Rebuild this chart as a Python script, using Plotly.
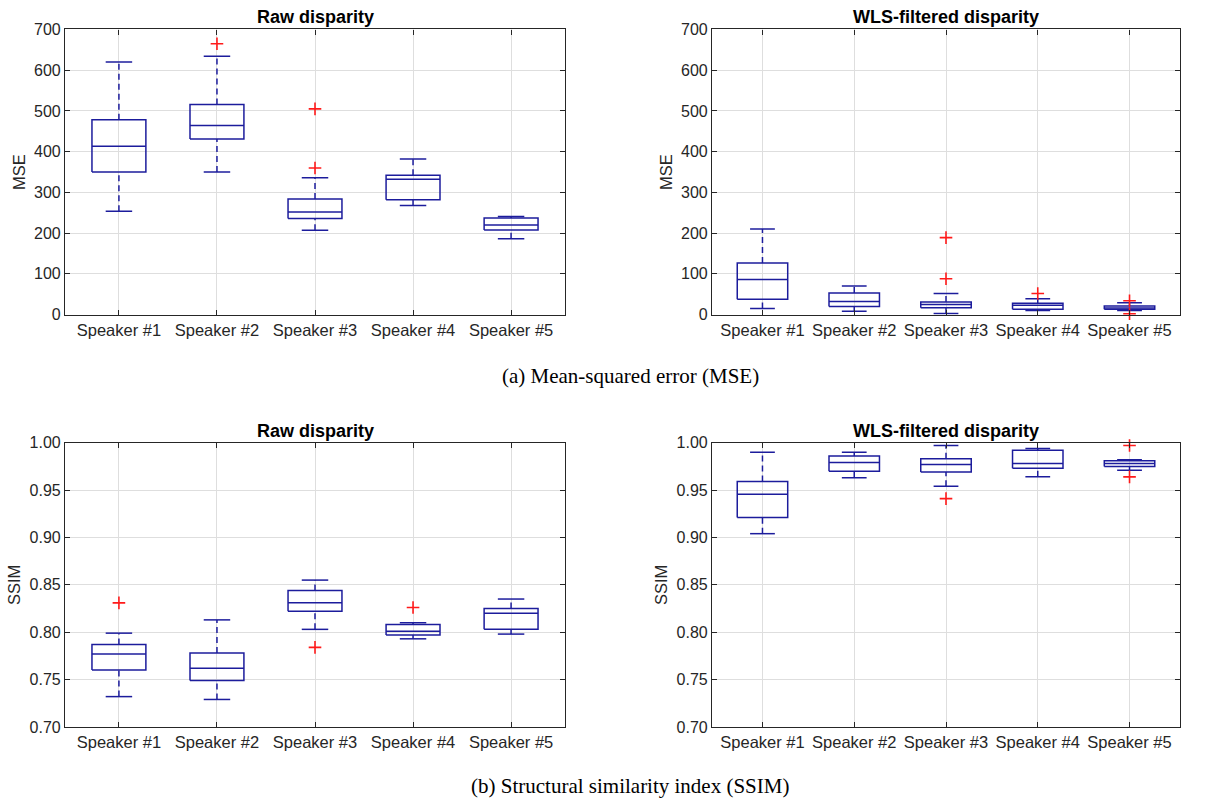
import plotly.graph_objects as go

speakers = ["Speaker #1", "Speaker #2", "Speaker #3", "Speaker #4", "Speaker #5"]
positions = [1, 2, 3, 4, 5]

# (a) MSE - raw disparity
mse_raw_lo = [254, 350, 207, 268, 186]
mse_raw_q1 = [350, 431, 236, 282, 208]
mse_raw_med = [413, 464, 252, 332, 220]
mse_raw_q3 = [478, 516, 284, 342, 237]
mse_raw_hi = [620, 634, 336, 382, 241]
mse_raw_out = [[], [665], [505, 360], [], []]

# (a) MSE - WLS-filtered disparity
mse_wls_lo = [15, 8, 2.5, 10, 10]
mse_wls_q1 = [38, 20, 17, 13, 13]
mse_wls_med = [86, 32, 25, 23, 16]
mse_wls_q3 = [127, 53, 31, 28, 21]
mse_wls_hi = [210, 70, 52, 39, 29]
mse_wls_out = [[], [], [189, 88], [52], [34, 2]]

# (b) SSIM - raw disparity
ssim_raw_lo = [0.732, 0.729, 0.803, 0.793, 0.798]
ssim_raw_q1 = [0.760, 0.749, 0.822, 0.797, 0.803]
ssim_raw_med = [0.777, 0.762, 0.831, 0.801, 0.820]
ssim_raw_q3 = [0.787, 0.778, 0.844, 0.808, 0.825]
ssim_raw_hi = [0.799, 0.813, 0.855, 0.810, 0.835]
ssim_raw_out = [[0.831], [], [0.784], [0.826], []]

# (b) SSIM - WLS-filtered disparity
ssim_wls_lo = [0.904, 0.963, 0.954, 0.964, 0.971]
ssim_wls_q1 = [0.921, 0.970, 0.969, 0.973, 0.975]
ssim_wls_med = [0.9455, 0.979, 0.977, 0.978, 0.978]
ssim_wls_q3 = [0.959, 0.986, 0.983, 0.992, 0.981]
ssim_wls_hi = [0.990, 0.990, 0.997, 0.994, 0.982]
ssim_wls_out = [[], [], [0.941], [], [0.997, 0.964]]

BOX_COLOR = "#1c1c9c"
OUT_COLOR = "#ff1a1a"
AX_COLOR = "#262626"
GRID_COLOR = "#dedede"
SANS = "Liberation Sans, Arial, Helvetica, sans-serif"
SERIF = "Liberation Serif, Times New Roman, serif"
HALF = 0.275
CAP = 0.135

fig = go.Figure()


def add_panel(xa, ya, lo, q1, med, q3, hi, outs):
    bx, by, mx, my, wx, wy, cx, cy, ox, oy = [], [], [], [], [], [], [], [], [], []
    for p, a, b, m, c, d, o in zip(positions, lo, q1, med, q3, hi, outs):
        bx += [p - HALF, p + HALF, p + HALF, p - HALF, p - HALF, None]
        by += [b, b, c, c, b, None]
        mx += [p - HALF, p + HALF, None]
        my += [m, m, None]
        wx += [p, p, None, p, p, None]
        wy += [c, d, None, a, b, None]
        cx += [p - CAP, p + CAP, None, p - CAP, p + CAP, None]
        cy += [d, d, None, a, a, None]
        for v in o:
            ox.append(p)
            oy.append(v)
    common = dict(xaxis=xa, yaxis=ya, showlegend=False, hoverinfo="skip", cliponaxis=False)
    fig.add_trace(go.Scatter(x=wx, y=wy, mode="lines",
                             line=dict(color=BOX_COLOR, width=1.5, dash="6px,4px"), **common))
    fig.add_trace(go.Scatter(x=cx, y=cy, mode="lines",
                             line=dict(color=BOX_COLOR, width=1.5), **common))
    fig.add_trace(go.Scatter(x=bx, y=by, mode="lines",
                             line=dict(color=BOX_COLOR, width=1.5), **common))
    fig.add_trace(go.Scatter(x=mx, y=my, mode="lines",
                             line=dict(color=BOX_COLOR, width=1.5), **common))
    fig.add_trace(go.Scatter(x=ox, y=oy, mode="markers",
                             marker=dict(symbol="cross-thin", size=9,
                                         line=dict(color=OUT_COLOR, width=1.6)),
                             **common))


add_panel("x", "y", mse_raw_lo, mse_raw_q1, mse_raw_med, mse_raw_q3, mse_raw_hi, mse_raw_out)
add_panel("x2", "y2", mse_wls_lo, mse_wls_q1, mse_wls_med, mse_wls_q3, mse_wls_hi, mse_wls_out)
add_panel("x3", "y3", ssim_raw_lo, ssim_raw_q1, ssim_raw_med, ssim_raw_q3, ssim_raw_hi, ssim_raw_out)
add_panel("x4", "y4", ssim_wls_lo, ssim_wls_q1, ssim_wls_med, ssim_wls_q3, ssim_wls_hi, ssim_wls_out)

W, H = 1218, 799


def fy(Y):
    # screen pixel row -> paper fraction (compensates for the page render offset/scale)
    return 1 - ((Y - 8.6) / 0.978) / H


xdom_l = [65 / W, 565 / W]
xdom_r = [712 / W, 1180 / W]
ydom_t = [fy(315), fy(30)]
ydom_b = [fy(727), fy(443)]


def xaxis(dom, anchor):
    return dict(domain=dom, anchor=anchor, range=[0.45, 5.55], tickmode="array",
                tickvals=positions, ticktext=speakers, showgrid=True, gridcolor=GRID_COLOR,
                gridwidth=1, zeroline=False, showline=True, linecolor=AX_COLOR, linewidth=1.2,
                mirror="ticks", ticks="inside", ticklen=5, tickcolor=AX_COLOR,
                tickfont=dict(family=SANS, size=16.5, color=AX_COLOR), fixedrange=True)


def yaxis(dom, anchor, rng, dtick, fmt, title):
    return dict(domain=dom, anchor=anchor, range=rng, dtick=dtick, tick0=rng[0],
                tickformat=fmt, showgrid=True, gridcolor=GRID_COLOR, gridwidth=1,
                zeroline=False, showline=True, linecolor=AX_COLOR, linewidth=1.2,
                mirror="ticks", ticks="inside", ticklen=5, tickcolor=AX_COLOR,
                tickfont=dict(family=SANS, size=16, color=AX_COLOR),
                title=dict(text=title, font=dict(family=SANS, size=16.5, color=AX_COLOR),
                           standoff=4), fixedrange=True)


fig.update_layout(
    width=W, height=H, margin=dict(l=0, r=0, t=0, b=0),
    paper_bgcolor="white", plot_bgcolor="white",
    xaxis=xaxis(xdom_l, "y"), yaxis=yaxis(ydom_t, "x", [0, 700], 100, "d", "MSE"),
    xaxis2=xaxis(xdom_r, "y2"), yaxis2=yaxis(ydom_t, "x2", [0, 700], 100, "d", "MSE"),
    xaxis3=xaxis(xdom_l, "y3"), yaxis3=yaxis(ydom_b, "x3", [0.70, 1.00], 0.05, ".2f", "SSIM"),
    xaxis4=xaxis(xdom_r, "y4"), yaxis4=yaxis(ydom_b, "x4", [0.70, 1.00], 0.05, ".2f", "SSIM"),
)

titles = [
    ("Raw disparity", (xdom_l[0] + xdom_l[1]) / 2, ydom_t[1]),
    ("WLS-filtered disparity", (xdom_r[0] + xdom_r[1]) / 2, ydom_t[1]),
    ("Raw disparity", (xdom_l[0] + xdom_l[1]) / 2, ydom_b[1]),
    ("WLS-filtered disparity", (xdom_r[0] + xdom_r[1]) / 2, ydom_b[1]),
]
for text, x, y in titles:
    fig.add_annotation(text="<b>" + text + "</b>", x=x, y=y, xref="paper", yref="paper",
                       xanchor="center", yanchor="bottom", yshift=0, showarrow=False,
                       font=dict(family=SANS, size=18, color="#000000"))

captions = [
    ("(a) Mean-squared error (MSE)", fy(376)),
    ("(b) Structural similarity index (SSIM)", fy(786)),
]
for text, y in captions:
    fig.add_annotation(text=text, x=630 / W, y=y, xref="paper", yref="paper",
                       xanchor="center", yanchor="middle", showarrow=False,
                       font=dict(family=SERIF, size=21, color="#000000"))

fig.write_html(
    "out.html",
    config={"displayModeBar": False},
    post_script="document.body.style.margin='0';document.body.style.overflow='hidden';",
)
